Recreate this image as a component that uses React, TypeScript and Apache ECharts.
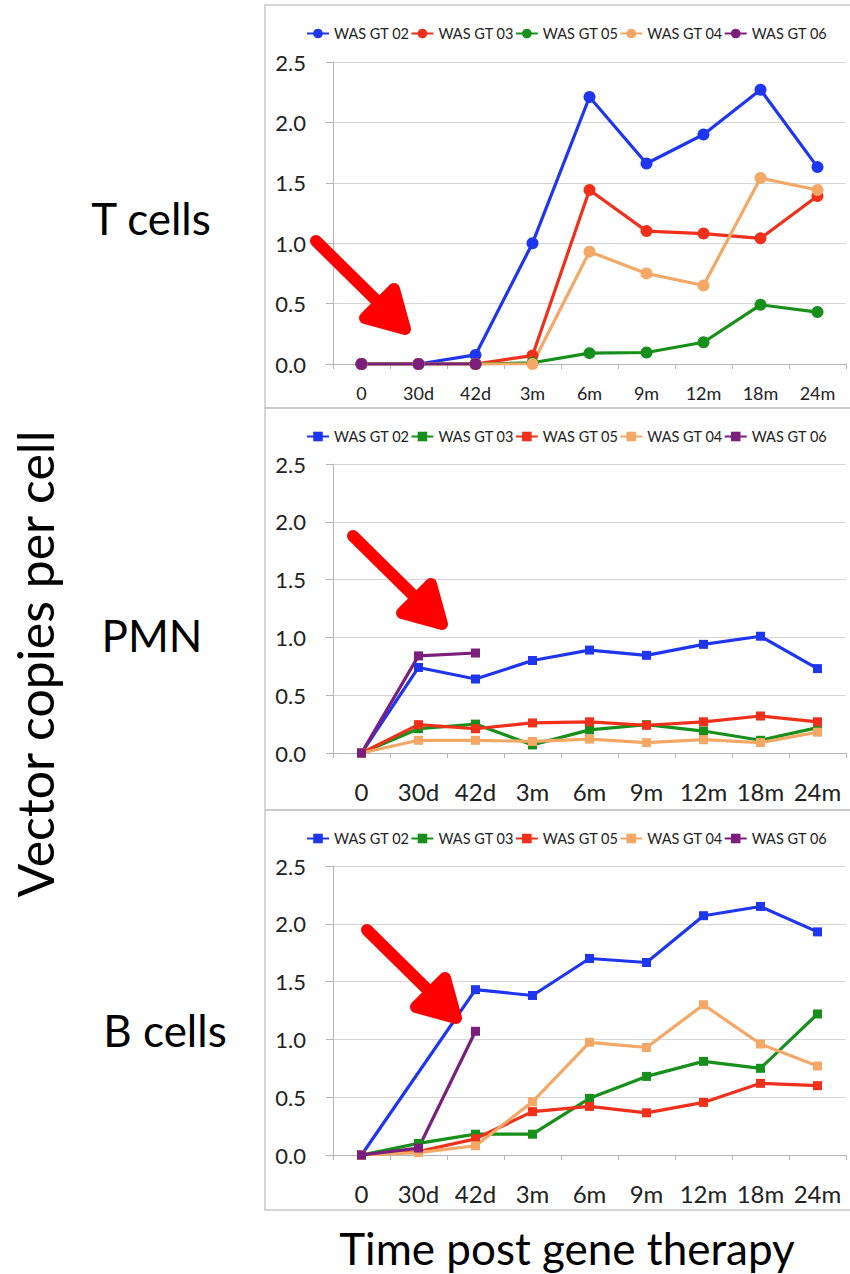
import { useEffect, useRef } from "react";
import * as echarts from "echarts";

const categories = ["0", "30d", "42d", "3m", "6m", "9m", "12m", "18m", "24m"];
const yTicks = { min: 0, max: 2.5, interval: 0.5 };

// T cells (circle markers)
const tGT02 = [0, 0, 0.075, 1.0, 2.21, 1.66, 1.9, 2.27, 1.63];
const tGT03 = [0, 0, 0, 0.07, 1.44, 1.1, 1.08, 1.04, 1.39];
const tGT05 = [0, 0, 0, 0.01, 0.09, 0.095, 0.18, 0.49, 0.43];
const tGT04 = [0, 0, 0, 0.0, 0.93, 0.75, 0.65, 1.54, 1.44];
const tGT06 = [0, 0, 0, null, null, null, null, null, null];

// PMN (square markers)
const pGT02 = [0, 0.74, 0.64, 0.8, 0.89, 0.845, 0.94, 1.01, 0.73];
const pGT03 = [0, 0.21, 0.25, 0.07, 0.2, 0.245, 0.19, 0.11, 0.22];
const pGT05 = [0, 0.245, 0.21, 0.26, 0.27, 0.24, 0.27, 0.32, 0.27];
const pGT04 = [0, 0.11, 0.11, 0.1, 0.12, 0.09, 0.115, 0.09, 0.18];
const pGT06 = [0, 0.84, 0.865, null, null, null, null, null, null];

// B cells (square markers)
const bGT02 = [0, null, 1.43, 1.38, 1.7, 1.665, 2.07, 2.15, 1.93];
const bGT03 = [0, 0.1, 0.18, 0.18, 0.49, 0.68, 0.81, 0.75, 1.22];
const bGT05 = [0, 0.03, 0.14, 0.375, 0.42, 0.365, 0.455, 0.62, 0.6];
const bGT04 = [0, 0.02, 0.08, 0.46, 0.975, 0.93, 1.3, 0.96, 0.77];
const bGT06 = [0, 0.06, 1.07, null, null, null, null, null, null];

const BLUE = "#1f36f0";
const RED = "#f0301a";
const GREEN = "#16901a";
const ORANGE = "#f5a865";
const PURPLE = "#7c1f7c";

const FONT = "Lato";

type S = { name: string; data: (number | null)[]; color: string };

const panels: { key: string; symbol: string; size: number; series: S[] }[] = [
  {
    key: "T",
    symbol: "circle",
    size: 12,
    series: [
      { name: "WAS GT 02", data: tGT02, color: BLUE },
      { name: "WAS GT 03", data: tGT03, color: RED },
      { name: "WAS GT 05", data: tGT05, color: GREEN },
      { name: "WAS GT 04", data: tGT04, color: ORANGE },
      { name: "WAS GT 06", data: tGT06, color: PURPLE },
    ],
  },
  {
    key: "P",
    symbol: "rect",
    size: 9,
    series: [
      { name: "WAS GT 02", data: pGT02, color: BLUE },
      { name: "WAS GT 03", data: pGT03, color: GREEN },
      { name: "WAS GT 05", data: pGT05, color: RED },
      { name: "WAS GT 04", data: pGT04, color: ORANGE },
      { name: "WAS GT 06", data: pGT06, color: PURPLE },
    ],
  },
  {
    key: "B",
    symbol: "rect",
    size: 9,
    series: [
      { name: "WAS GT 02", data: bGT02, color: BLUE },
      { name: "WAS GT 03", data: bGT03, color: GREEN },
      { name: "WAS GT 05", data: bGT05, color: RED },
      { name: "WAS GT 04", data: bGT04, color: ORANGE },
      { name: "WAS GT 06", data: bGT06, color: PURPLE },
    ],
  },
];

const grids = [
  { left: 333, right: 4, top: 62, height: 302 },
  { left: 333, right: 4, top: 464, height: 289 },
  { left: 333, right: 4, top: 866, height: 289 },
];
const legendTops = [21, 424, 826];
const xLabelSize = [18, 24, 24];
const xLabelMargin = [20, 26, 26];

function arrow(tx: number, ty: number) {
  const red = "#ff0000";
  return [
    {
      type: "line",
      z: 100,
      shape: { x1: tx - 96, y1: ty - 95, x2: tx - 28, y2: ty - 28 },
      style: { stroke: red, lineWidth: 12, lineCap: "round" },
    },
    {
      type: "polygon",
      z: 100,
      shape: {
        points: [
          [tx - 47, ty - 18],
          [tx - 7, ty - 7],
          [tx - 18, ty - 47],
        ],
      },
      style: { fill: red, stroke: red, lineWidth: 12, lineJoin: "round" },
    },
  ];
}

export default function App() {
  const ref = useRef<HTMLDivElement>(null);
  useEffect(() => {
    if (!ref.current) return;
    const chart = echarts.init(ref.current, null, { renderer: "svg" });

    const xAxis = panels.map((_, i) => ({
      type: "category",
      gridIndex: i,
      data: categories,
      boundaryGap: true,
      axisLine: { lineStyle: { color: "#b4b4b4", width: 1 } },
      axisTick: { show: true, length: 5, interval: 0, lineStyle: { color: "#b4b4b4" } },
      axisLabel: {
        interval: 0,
        fontSize: xLabelSize[i],
        fontFamily: FONT,
        color: "#222",
        margin: xLabelMargin[i],
      },
    }));
    const yAxis = panels.map((_, i) => ({
      type: "value",
      gridIndex: i,
      min: yTicks.min,
      max: yTicks.max,
      interval: yTicks.interval,
      axisLine: { show: true, lineStyle: { color: "#b4b4b4", width: 1 } },
      axisTick: { show: true, length: 7, lineStyle: { color: "#b4b4b4" } },
      axisLabel: {
        fontSize: 22,
        fontFamily: FONT,
        color: "#222",
        margin: 27,
        formatter: (v: number) => v.toFixed(1),
      },
      splitLine: { lineStyle: { color: "#d6d6d6", width: 1 } },
    }));
    const series: any[] = [];
    panels.forEach((p, i) => {
      p.series.forEach((s) => {
        series.push({
          type: "line",
          name: s.name + "|" + p.key,
          xAxisIndex: i,
          yAxisIndex: i,
          data: s.data,
          connectNulls: true,
          symbol: p.symbol,
          symbolSize: p.size,
          showSymbol: true,
          lineStyle: { color: s.color, width: 3.2 },
          itemStyle: { color: s.color },
        });
      });
    });
    const legend = panels.map((p, i) => ({
      top: legendTops[i],
      left: 301,
      orient: "horizontal",
      data: p.series.map((s) => s.name + "|" + p.key),
      formatter: (n: string) => n.split("|")[0],
      itemWidth: 22,
      itemHeight: 12,
      itemGap: 1,
      selectedMode: false,
      textStyle: { fontSize: 14.5, fontFamily: FONT, color: "#222" },
    }));

    const textStyle = (text: string, size: number) => ({
      text,
      fontSize: size,
      fontFamily: FONT,
      fill: "#000",
      align: "center",
      verticalAlign: "middle",
    });

    const graphic: any[] = [
      {
        type: "rect",
        z: -1,
        shape: { x: 265, y: 5, width: 600, height: 403 },
        style: { fill: "none", stroke: "#c8c8c8", lineWidth: 1.5 },
      },
      {
        type: "rect",
        z: -1,
        shape: { x: 265, y: 408, width: 600, height: 402 },
        style: { fill: "none", stroke: "#c8c8c8", lineWidth: 1.5 },
      },
      {
        type: "rect",
        z: -1,
        shape: { x: 265, y: 810, width: 600, height: 400 },
        style: { fill: "none", stroke: "#c8c8c8", lineWidth: 1.5 },
      },
      { type: "text", x: 151, y: 218, style: textStyle("T cells", 44) },
      { type: "text", x: 152, y: 635, style: textStyle("PMN", 44) },
      { type: "text", x: 165, y: 1030, style: textStyle("B cells", 44) },
      {
        type: "text",
        x: 35,
        y: 664,
        rotation: Math.PI / 2,
        style: textStyle("Vector copies per cell", 50),
      },
      { type: "text", x: 567, y: 1248, style: textStyle("Time post gene therapy", 44) },
      ...arrow(412, 336),
      ...arrow(449, 631),
      ...arrow(463, 1025),
    ];

    chart.setOption({
      animation: false,
      backgroundColor: "#ffffff",
      grid: grids,
      xAxis,
      yAxis,
      legend,
      series,
      graphic,
    });
    return () => chart.dispose();
  }, []);
  return (
    <div
      ref={ref}
      style={{ position: "absolute", left: 0, top: 0, width: 850, height: 1274, background: "#fff" }}
    />
  );
}
